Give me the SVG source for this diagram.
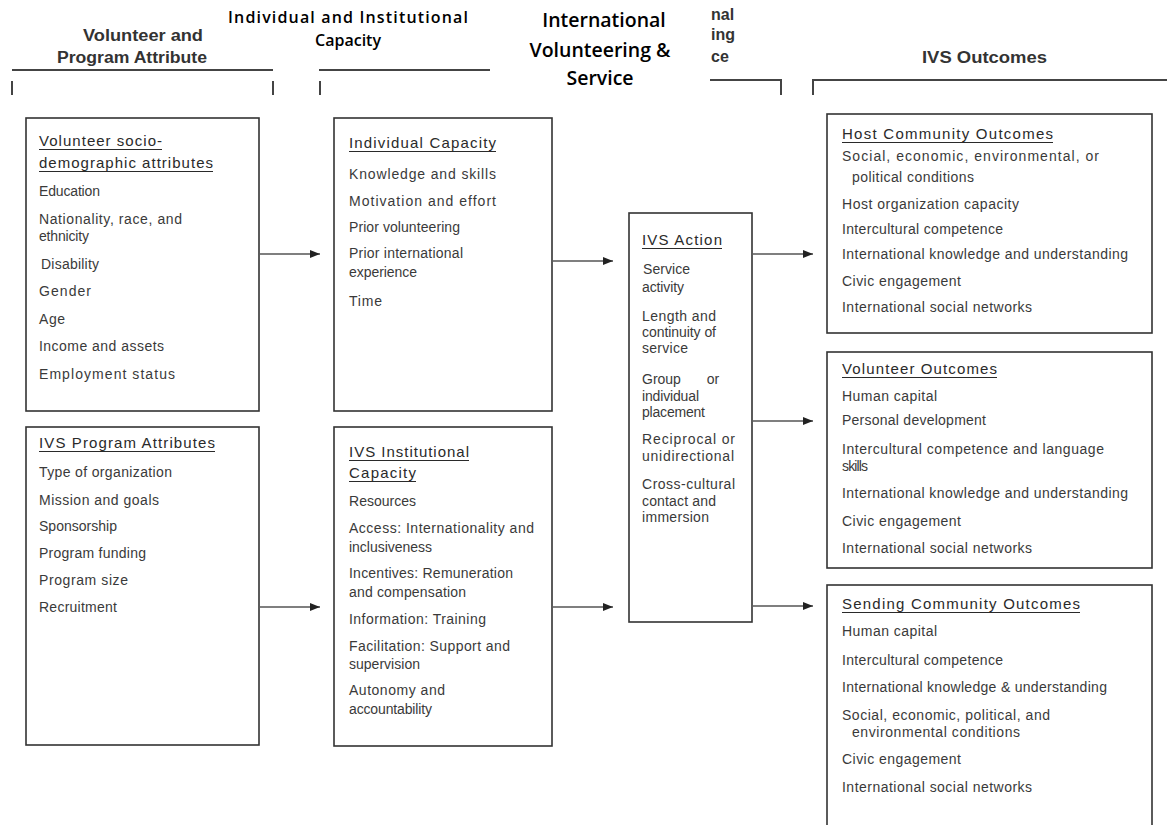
<svg xmlns="http://www.w3.org/2000/svg" width="1167" height="825" viewBox="0 0 1167 825">
<style>
.bg{fill:#fff}
.box{fill:#fff;stroke:#333;stroke-width:1.6}
.br{fill:none;stroke:#444;stroke-width:2}
.t{font-family:"Liberation Sans",Arial,sans-serif;font-size:14px;fill:#3a3a3a}
.h{font-family:"Liberation Sans",Arial,sans-serif;font-size:15px;fill:#2a2a2a}
.ul{stroke:#2a2a2a;stroke-width:1.2;fill:none}
.hd{font-family:"Liberation Sans",Arial,sans-serif;font-size:16px;font-weight:bold;fill:#333}
.ov{font-family:"Open Sans","Liberation Sans",sans-serif;font-weight:600;fill:#000}
.cn{fill:none;stroke:#555;stroke-width:1.6}
</style>
<defs>
<marker id="ah" markerUnits="userSpaceOnUse" markerWidth="10" markerHeight="8" refX="10" refY="4" orient="auto">
<path d="M0,0 L10,4 L0,8 z" fill="#222"/>
</marker>
</defs>
<rect class="bg" x="0" y="0" width="1167" height="825"/>

<g id="headers">
<path class="br" d="M12,70 H273 M12,81 V95 M273,81 V95"/>
<path class="br" d="M319,70 H490 M320,81 V95"/>
<path class="br" d="M710,80 H781 V95"/>
<path class="br" d="M813,95 V80 H1167"/>
<text class="hd" x="83" y="41" textLength="120" lengthAdjust="spacingAndGlyphs">Volunteer and</text>
<text class="hd" x="57" y="63" textLength="150" lengthAdjust="spacingAndGlyphs">Program Attribute</text>
<text class="hd" x="711" y="20" font-size="14">nal</text>
<text class="hd" x="711" y="40" font-size="14">ing</text>
<text class="hd" x="711" y="62" font-size="14">ce</text>
<text class="hd" x="922" y="63" textLength="125" lengthAdjust="spacingAndGlyphs">IVS Outcomes</text>
<text class="ov" x="348" y="23" font-size="16" text-anchor="middle" textLength="240">Individual and Institutional</text>
<text class="ov" x="348" y="46" font-size="16" text-anchor="middle">Capacity</text>
<text class="ov" x="604" y="27" font-size="19.5" text-anchor="middle">International</text>
<text class="ov" x="600" y="57" font-size="19.5" text-anchor="middle">Volunteering &amp;</text>
<text class="ov" x="600" y="85" font-size="19.5" text-anchor="middle">Service</text>
</g>

<g id="connectors">
<line class="cn" x1="260" y1="254" x2="320" y2="254" marker-end="url(#ah)"/>
<line class="cn" x1="260" y1="607" x2="320" y2="607" marker-end="url(#ah)"/>
<line class="cn" x1="553" y1="261" x2="613" y2="261" marker-end="url(#ah)"/>
<line class="cn" x1="553" y1="607" x2="613" y2="607" marker-end="url(#ah)"/>
<line class="cn" x1="753" y1="254" x2="813" y2="254" marker-end="url(#ah)"/>
<line class="cn" x1="753" y1="421" x2="813" y2="421" marker-end="url(#ah)"/>
<line class="cn" x1="753" y1="606" x2="813" y2="606" marker-end="url(#ah)"/>
</g>

<g id="socio">
<rect class="box" x="26" y="118" width="233" height="293"/>
<text class="h" x="39" y="146" textLength="123">Volunteer socio-</text>
<text class="h" x="39" y="168" textLength="174">demographic attributes</text>
<path class="ul" d="M39,149.5 H162 M39,171.5 H213"/>
<text class="t" x="39" y="196" textLength="61">Education</text>
<text class="t" x="39" y="224" textLength="143">Nationality, race, and</text>
<text class="t" x="39" y="241" textLength="50">ethnicity</text>
<text class="t" x="41" y="269" textLength="58">Disability</text>
<text class="t" x="39" y="296" textLength="52">Gender</text>
<text class="t" x="39" y="324" textLength="26">Age</text>
<text class="t" x="39" y="351" textLength="125">Income and assets</text>
<text class="t" x="39" y="379" textLength="136">Employment status</text>
</g>

<g id="program">
<rect class="box" x="26" y="427" width="233" height="318"/>
<text class="h" x="39" y="448" textLength="176">IVS Program Attributes</text>
<path class="ul" d="M39,451.5 H215"/>
<text class="t" x="39" y="477" textLength="133">Type of organization</text>
<text class="t" x="39" y="505" textLength="120">Mission and goals</text>
<text class="t" x="39" y="531" textLength="78">Sponsorship</text>
<text class="t" x="39" y="558" textLength="107">Program funding</text>
<text class="t" x="39" y="585" textLength="89">Program size</text>
<text class="t" x="39" y="612" textLength="78">Recruitment</text>
</g>

<g id="individual">
<rect class="box" x="334" y="118" width="218" height="293"/>
<text class="h" x="349" y="148" textLength="147">Individual Capacity</text>
<path class="ul" d="M349,151.5 H496"/>
<text class="t" x="349" y="179" textLength="147">Knowledge and skills</text>
<text class="t" x="349" y="206" textLength="147">Motivation and effort</text>
<text class="t" x="349" y="232" textLength="111">Prior volunteering</text>
<text class="t" x="349" y="258" textLength="114">Prior international</text>
<text class="t" x="349" y="277" textLength="68">experience</text>
<text class="t" x="349" y="306" textLength="33">Time</text>
</g>

<g id="institutional">
<rect class="box" x="334" y="427" width="218" height="319"/>
<text class="h" x="349" y="457" textLength="120">IVS Institutional</text>
<text class="h" x="349" y="478" textLength="67">Capacity</text>
<path class="ul" d="M349,460.5 H469 M349,481.5 H416"/>
<text class="t" x="349" y="506" textLength="67">Resources</text>
<text class="t" x="349" y="533" textLength="185">Access: Internationality and</text>
<text class="t" x="349" y="552" textLength="83">inclusiveness</text>
<text class="t" x="349" y="578" textLength="164">Incentives: Remuneration</text>
<text class="t" x="349" y="597" textLength="117">and compensation</text>
<text class="t" x="349" y="624" textLength="137">Information: Training</text>
<text class="t" x="349" y="651" textLength="161">Facilitation: Support and</text>
<text class="t" x="349" y="669" textLength="71">supervision</text>
<text class="t" x="349" y="695" textLength="96">Autonomy and</text>
<text class="t" x="349" y="714" textLength="83">accountability</text>
</g>

<g id="action">
<rect class="box" x="629" y="213" width="123" height="409"/>
<text class="h" x="642" y="245" textLength="80">IVS Action</text>
<path class="ul" d="M642,248.5 H722"/>
<text class="t" x="643" y="274" textLength="47">Service</text>
<text class="t" x="642" y="292" textLength="42">activity</text>
<text class="t" x="642" y="321" textLength="74">Length and</text>
<text class="t" x="642" y="337" textLength="74">continuity of</text>
<text class="t" x="642" y="353" textLength="46">service</text>
<text class="t" x="642" y="384" word-spacing="22">Group or</text>
<text class="t" x="642" y="401" textLength="57">individual</text>
<text class="t" x="642" y="417" textLength="63">placement</text>
<text class="t" x="642" y="444" textLength="93">Reciprocal or</text>
<text class="t" x="642" y="461" textLength="92">unidirectional</text>
<text class="t" x="642" y="489" textLength="93">Cross-cultural</text>
<text class="t" x="642" y="506" textLength="74">contact and</text>
<text class="t" x="642" y="522" textLength="67">immersion</text>
</g>

<g id="host">
<rect class="box" x="827" y="114" width="325" height="219"/>
<text class="h" x="842" y="139" textLength="211">Host Community Outcomes</text>
<path class="ul" d="M842,142.5 H1053"/>
<text class="t" x="842" y="161" textLength="257">Social, economic, environmental, or</text>
<text class="t" x="852" y="182" textLength="122">political conditions</text>
<text class="t" x="842" y="209" textLength="177">Host organization capacity</text>
<text class="t" x="842" y="234" textLength="161">Intercultural competence</text>
<text class="t" x="842" y="259" textLength="286">International knowledge and understanding</text>
<text class="t" x="842" y="286" textLength="119">Civic engagement</text>
<text class="t" x="842" y="312" textLength="190">International social networks</text>
</g>

<g id="volunteer">
<rect class="box" x="827" y="352" width="325" height="216"/>
<text class="h" x="842" y="374" textLength="155">Volunteer Outcomes</text>
<path class="ul" d="M842,377.5 H997"/>
<text class="t" x="842" y="401" textLength="95">Human capital</text>
<text class="t" x="842" y="425" textLength="144">Personal development</text>
<text class="t" x="842" y="454" textLength="262">Intercultural competence and language</text>
<text class="t" x="842" y="471" textLength="26">skills</text>
<text class="t" x="842" y="498" textLength="286">International knowledge and understanding</text>
<text class="t" x="842" y="526" textLength="119">Civic engagement</text>
<text class="t" x="842" y="553" textLength="190">International social networks</text>
</g>

<g id="sending">
<rect class="box" x="827" y="585" width="325" height="260"/>
<text class="h" x="842" y="609" textLength="238">Sending Community Outcomes</text>
<path class="ul" d="M842,612.5 H1080"/>
<text class="t" x="842" y="636" textLength="95">Human capital</text>
<text class="t" x="842" y="665" textLength="161">Intercultural competence</text>
<text class="t" x="842" y="692" textLength="265">International knowledge &amp; understanding</text>
<text class="t" x="842" y="720" textLength="208">Social, economic, political, and</text>
<text class="t" x="852" y="737" textLength="168">environmental conditions</text>
<text class="t" x="842" y="764" textLength="119">Civic engagement</text>
<text class="t" x="842" y="792" textLength="190">International social networks</text>
</g>
</svg>
